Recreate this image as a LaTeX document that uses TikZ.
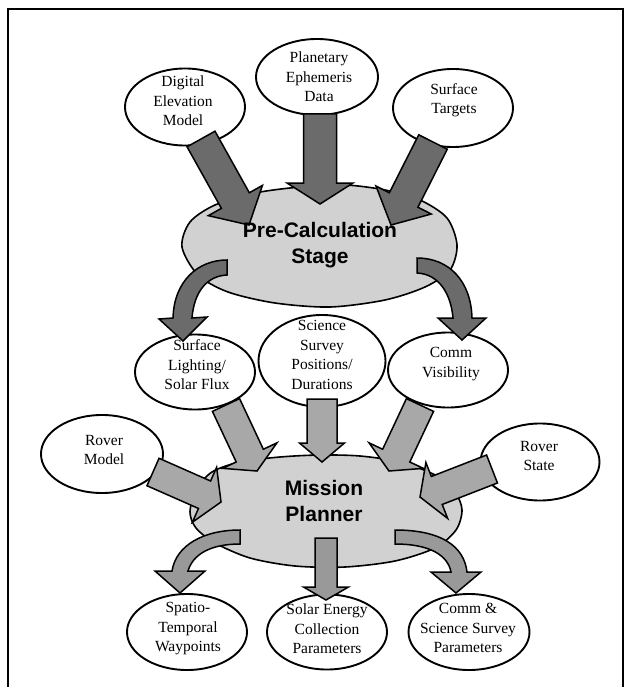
\documentclass[tikz,border=0pt]{standalone}
\usepackage{fontspec}
\setmainfont{Liberation Serif}
\newfontfamily\headfont{Liberation Sans}
\usetikzlibrary{calc,shapes.geometric}

\definecolor{blobgray}{gray}{0.82}
\definecolor{inkdark}{gray}{0.42}
\definecolor{inkmid}{gray}{0.66}
\definecolor{inkout}{gray}{0.60}

\tikzset{
  bubble/.style={ellipse, draw=black, line width=1.9pt, fill=white, inner sep=0pt},
  blob/.style={draw=black, line width=1.6pt, fill=blobgray},
  lbl/.style={align=center, inner sep=0pt, font=\fontsize{15.5}{19.5}\selectfont},
  headlbl/.style={align=center, inner sep=0pt, font=\headfont\bfseries\fontsize{21}{26}\selectfont},
  darkarrow/.style={fill=inkdark, draw=black, line width=1.5pt, line join=miter},
  midarrow/.style={fill=inkmid, draw=black, line width=1.5pt, line join=miter},
  outarrow/.style={fill=inkout, draw=black, line width=1.5pt, line join=miter},
}

% straight block arrow: style, start coordinate, tip coordinate,
% half shaft width, half head width, head length
\newcommand{\blockarrow}[6]{%
  \coordinate (ba-h) at ($(#3)!#6!(#2)$);
  \filldraw[#1] ($(#2)!#4!90:(#3)$) -- ($(ba-h)!#4!90:(#3)$)
    -- ($(ba-h)!#5!90:(#3)$) -- (#3) -- ($(ba-h)!#5!-90:(#3)$)
    -- ($(ba-h)!#4!-90:(#3)$) -- ($(#2)!#4!-90:(#3)$) -- cycle;}

\begin{document}
\begin{tikzpicture}[x=1pt,y=-1pt]
\useasboundingbox (0,0) rectangle (626,687);

% frame
\draw[line width=1.6pt] (8,687) -- (8,9) -- (623,9) -- (623,687);

% central stages
\draw[blob] plot[smooth cycle] coordinates {(182,247) (190,222) (215,205) (255,193)
  (300,187) (345,185) (385,190) (420,200) (447,218) (457,245) (450,270) (425,287)
  (385,300) (330,307) (275,303) (228,292) (198,275)};
\draw[blob] plot[smooth cycle] coordinates {(190,512) (196,490) (212,472) (240,462)
  (280,457) (320,455) (360,456) (400,462) (435,475) (455,492) (462,510) (456,530)
  (435,548) (395,561) (345,567) (295,566) (250,558) (215,543) (196,528)};

% data bubbles
\node[bubble, minimum width=120pt, minimum height=77pt] (dem) at (185,107) {};
\node[bubble, minimum width=122pt, minimum height=76pt] (eph) at (317,77) {};
\node[bubble, minimum width=120pt, minimum height=78pt] (tgt) at (453,108) {};
\node[bubble, minimum width=120pt, minimum height=75pt] (sol) at (195,372) {};
\node[bubble, minimum width=127pt, minimum height=92pt] (sci) at (322,361) {};
\node[bubble, minimum width=120pt, minimum height=75pt] (com) at (448,370) {};
\node[bubble, minimum width=122pt, minimum height=78pt] (rmod) at (102,454) {};
\node[bubble, minimum width=119pt, minimum height=77pt] (rst) at (540,462) {};
\node[bubble, minimum width=120pt, minimum height=76pt] (way) at (187,632) {};
\node[bubble, minimum width=120pt, minimum height=75pt] (sec) at (327,632) {};
\node[bubble, minimum width=121pt, minimum height=76pt] (csp) at (469,632) {};

% arrow end points
\coordinate (dem-o) at (201,139);  \coordinate (pre-a) at (249,225);
\coordinate (eph-o) at (320,114);  \coordinate (pre-b) at (320,204);
\coordinate (tgt-o) at (433,142);  \coordinate (pre-c) at (391,225);
\coordinate (sol-o) at (226,405);  \coordinate (mp-a) at (257,471);
\coordinate (sci-o) at (322,399);  \coordinate (mp-b) at (322,462);
\coordinate (com-o) at (420,405);  \coordinate (mp-c) at (389,471);
\coordinate (rmod-o) at (153,472); \coordinate (mp-d) at (221,502);
\coordinate (rst-o) at (492,469);  \coordinate (mp-e) at (420,497);
\coordinate (mp-f) at (326,538);   \coordinate (sec-i) at (326,600);

% inputs of the pre-calculation stage
\blockarrow{darkarrow}{dem-o}{pre-a}{16pt}{31pt}{28pt}
\blockarrow{darkarrow}{eph-o}{pre-b}{16.5pt}{33pt}{21pt}
\blockarrow{darkarrow}{tgt-o}{pre-c}{16pt}{31pt}{28pt}

% outputs of the pre-calculation stage
\coordinate (pre-l) at (227,268); \coordinate (sol-i) at (183,341);
\coordinate (pre-r) at (417,266); \coordinate (com-i) at (462,340);
\filldraw[darkarrow] (227,260) .. controls (198,260) and (174,281) .. (173,318)
  -- (159,319) -- (sol-i) -- (207,317) -- (192,318)
  .. controls (194,293) and (206,276) .. (227,275) -- cycle;
\filldraw[darkarrow] (417,258) .. controls (449,258) and (471,281) .. (472,318)
  -- (486,318) -- (com-i) -- (438,318) -- (453,318)
  .. controls (451,294) and (439,274) .. (417,273) -- cycle;

% inputs of the mission planner
\blockarrow{midarrow}{sol-o}{mp-a}{15pt}{30pt}{17pt}
\blockarrow{midarrow}{sci-o}{mp-b}{15pt}{22.5pt}{19pt}
\blockarrow{midarrow}{com-o}{mp-c}{15pt}{30pt}{17pt}
\blockarrow{midarrow}{rmod-o}{mp-d}{15pt}{30pt}{18pt}
\blockarrow{midarrow}{rst-o}{mp-e}{15pt}{30pt}{18pt}

% outputs of the mission planner
\coordinate (mp-l) at (240,537); \coordinate (way-i) at (180,593);
\coordinate (mp-r) at (395,537); \coordinate (csp-i) at (456,593);
\filldraw[outarrow] (240,530) .. controls (204,530) and (176,545) .. (172,571)
  -- (155,571) -- (way-i) -- (205,571) -- (188,571)
  .. controls (193,554) and (211,544) .. (240,544) -- cycle;
\blockarrow{outarrow}{mp-f}{sec-i}{11pt}{22.5pt}{13pt}
\filldraw[outarrow] (395,530) .. controls (441,530) and (464,546) .. (467,572)
  -- (481,572) -- (csp-i) -- (431,572) -- (451,572)
  .. controls (448,556) and (431,544) .. (395,544) -- cycle;

% labels
\node[headlbl] (pre) at (320,245) {Pre-Calculation\\Stage};
\node[headlbl] (mp) at (324,501) {Mission\\Planner};
\node[lbl] (dem-t) at (183,101) {Digital\\Elevation\\Model};
\node[lbl] (eph-t) at (319,77) {Planetary\\Ephemeris\\Data};
\node[lbl] (tgt-t) at (454,100) {Surface\\Targets};
\node[lbl] (sol-t) at (197,365) {Surface\\Lighting/\\Solar Flux};
\node[lbl] (sci-t) at (322,355) {Science\\Survey\\Positions/\\Durations};
\node[lbl] (com-t) at (451,364) {Comm\\Visibility};
\node[lbl] (rmod-t) at (104,450) {Rover\\Model};
\node[lbl] (rst-t) at (539,456) {Rover\\State};
\node[lbl] (way-t) at (188,629) {Spatio-\\Temporal\\Waypoints};
\node[lbl] (sec-t) at (327,629) {Solar Energy\\Collection\\Parameters};
\node[lbl] (csp-t) at (468,628) {Comm \&\\Science Survey\\Parameters};
\end{tikzpicture}
\end{document}
